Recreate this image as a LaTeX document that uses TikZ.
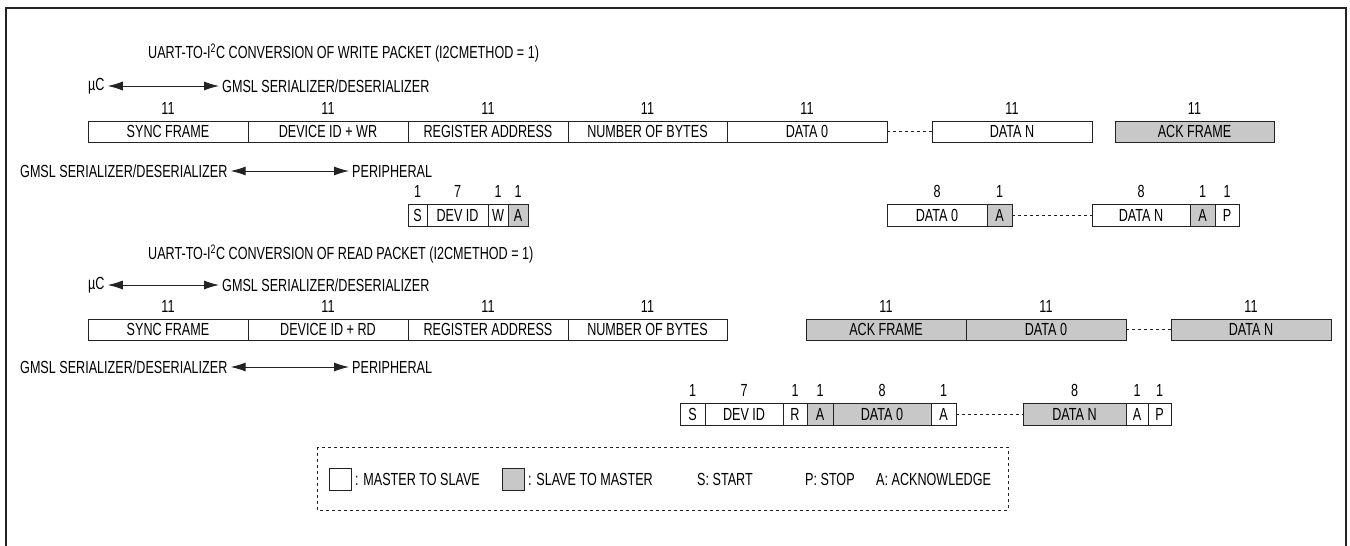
\documentclass[tikz,border=0pt]{standalone}
\usepackage{fontspec}
\setmainfont{Liberation Sans}[FakeStretch=0.72]
\usetikzlibrary{arrows.meta}
\definecolor{sl}{RGB}{200,200,200}
\definecolor{ln}{RGB}{35,35,35}
\newcommand\bx[7]{\node[#6, minimum width={#3-#2}, minimum height={#5-#4}] (#1) at ({(#2+#3)/2},{(#4+#5)/2}) {#7};}
\begin{document}
\begin{tikzpicture}[x=1pt,y=-1pt,
  font=\fontsize{17.5}{20}\selectfont,
  box/.style={draw=ln, line width=0.9pt, inner sep=0pt, outer sep=0pt, fill=white},
  gbox/.style={box, fill=sl},
  num/.style={inner sep=0pt, anchor=base},
  lbl/.style={inner sep=0pt, anchor=west},
  dbl/.style={line width=0.9pt, draw=ln, {Latex[length=15pt,width=9pt]}-{Latex[length=15pt,width=9pt]}, shorten <=3pt, shorten >=3pt},
  gap/.style={dashed, draw=ln, line width=0.8pt}]
\useasboundingbox (0,0) rectangle (1350,546);
\draw[line width=2pt, draw=ln] (6,546) -- (6,8) -- (1346,8) -- (1346,546);

% ---------- WRITE ----------
\node[lbl] (t1) at (148,53) {UART-TO-I\textsuperscript{2}C CONVERSION OF WRITE PACKET (I2CMETHOD = 1)};
\node[lbl] (uc1) at (88,86) {µC};
\node[lbl] (gm1) at (222,86) {GMSL SERIALIZER/DESERIALIZER};
\draw[dbl] (uc1.east) -- (gm1.west);

\bx{w1}{88}{248}{121}{142}{box}{SYNC FRAME}
\bx{w2}{248}{408}{121}{142}{box}{DEVICE ID + WR}
\bx{w3}{408}{568}{121}{142}{box}{REGISTER ADDRESS}
\bx{w4}{568}{727}{121}{142}{box}{NUMBER OF BYTES}
\bx{w5}{727}{887}{121}{142}{box}{DATA 0}
\bx{w6}{932}{1092}{121}{142}{box}{DATA N}
\bx{w7}{1115}{1274}{121}{142}{gbox}{ACK FRAME}
\draw[gap] (w5.east) -- (w6.west);
\foreach \b in {w1,w2,w3,w4,w5,w6,w7}{\path (\b.north) ++(0,-7) node[num] (n\b) {11};}

\node[lbl] (gp1) at (20,171) {GMSL SERIALIZER/DESERIALIZER};
\node[lbl] (pe1) at (352,171) {PERIPHERAL};
\draw[dbl] (gp1.east) -- (pe1.west);

\bx{a1}{408}{427}{204}{226}{box}{S}
\bx{a2}{427}{488}{204}{226}{box}{DEV ID}
\bx{a3}{488}{508}{204}{226}{box}{W}
\bx{a4}{508}{528}{204}{226}{gbox}{A}
\bx{a5}{887}{987}{204}{226}{box}{DATA 0}
\bx{a6}{987}{1012}{204}{226}{gbox}{A}
\bx{a7}{1092}{1190}{204}{226}{box}{DATA N}
\bx{a8}{1190}{1215}{204}{226}{gbox}{A}
\bx{a9}{1215}{1239}{204}{226}{box}{P}
\draw[gap] (a6.east) -- (a7.west);
\foreach \b/\v in {a1/1,a2/7,a3/1,a4/1,a5/8,a6/1,a7/8,a8/1,a9/1}{\path (\b.north) ++(0,-7) node[num] (n\b) {\v};}

% ---------- READ ----------
\node[lbl] (t2) at (148,254) {UART-TO-I\textsuperscript{2}C CONVERSION OF READ PACKET (I2CMETHOD = 1)};
\node[lbl] (uc2) at (88,285) {µC};
\node[lbl] (gm2) at (222,285) {GMSL SERIALIZER/DESERIALIZER};
\draw[dbl] (uc2.east) -- (gm2.west);

\bx{r1}{88}{248}{319}{340}{box}{SYNC FRAME}
\bx{r2}{248}{408}{319}{340}{box}{DEVICE ID + RD}
\bx{r3}{408}{568}{319}{340}{box}{REGISTER ADDRESS}
\bx{r4}{568}{727}{319}{340}{box}{NUMBER OF BYTES}
\bx{r5}{806}{966}{319}{340}{gbox}{ACK FRAME}
\bx{r6}{966}{1126}{319}{340}{gbox}{DATA 0}
\bx{r7}{1171}{1331}{319}{340}{gbox}{DATA N}
\draw[gap] (r6.east) -- (r7.west);
\foreach \b in {r1,r2,r3,r4,r5,r6,r7}{\path (\b.north) ++(0,-7) node[num] (n\b) {11};}

\node[lbl] (gp2) at (20,367) {GMSL SERIALIZER/DESERIALIZER};
\node[lbl] (pe2) at (352,367) {PERIPHERAL};
\draw[dbl] (gp2.east) -- (pe2.west);

\bx{b1}{680}{705}{403}{425}{box}{S}
\bx{b2}{705}{783}{403}{425}{box}{DEV ID}
\bx{b3}{783}{807}{403}{425}{box}{R}
\bx{b4}{807}{833}{403}{425}{gbox}{A}
\bx{b5}{833}{931}{403}{425}{gbox}{DATA 0}
\bx{b6}{931}{956}{403}{425}{box}{A}
\bx{b7}{1023}{1126}{403}{425}{gbox}{DATA N}
\bx{b8}{1126}{1148}{403}{425}{box}{A}
\bx{b9}{1148}{1171}{403}{425}{box}{P}
\draw[gap] (b6.east) -- (b7.west);
\foreach \b/\v in {b1/1,b2/7,b3/1,b4/1,b5/8,b6/1,b7/8,b8/1,b9/1}{\path (\b.north) ++(0,-7) node[num] (n\b) {\v};}

% ---------- LEGEND ----------
\draw[gap, line width=0.7pt] (317,447) rectangle (1008,510);
\bx{lw}{329}{351}{468}{490}{box}{}
\node[lbl] (lwt) at (355,479) {: MASTER TO SLAVE};
\bx{lg}{502}{524}{468}{490}{gbox}{}
\node[lbl] (lgt) at (528,479) {: SLAVE TO MASTER};
\node[lbl] (ls) at (697,479) {S: START};
\node[lbl] (lp) at (805,479) {P: STOP};
\node[lbl] (la) at (876,479) {A: ACKNOWLEDGE};
\end{tikzpicture}
\end{document}
